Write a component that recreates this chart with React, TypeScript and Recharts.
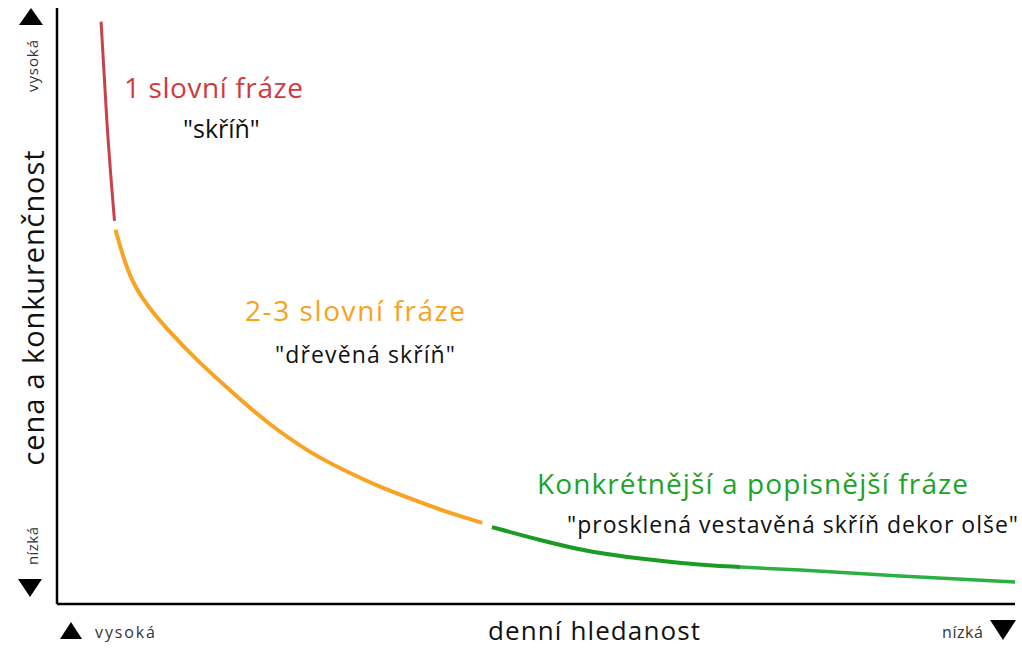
import React from "react";
import { LineChart, Line, XAxis, YAxis, ReferenceLine } from "recharts";

// x = denní hledanost (0 = vysoká, 100 = nízká), y = cena a konkurenčnost
const oneWord = [
  { x: 4.6, y: 97.7 },
  { x: 5.2, y: 81.2 },
  { x: 6.0, y: 64.3 },
];

const twoThreeWords = [
  { x: 6.1, y: 62.8 },
  { x: 7.3, y: 56.0 },
  { x: 8.7, y: 51.5 },
  { x: 11.5, y: 46.0 },
  { x: 14.9, y: 40.4 },
  { x: 18.4, y: 35.4 },
  { x: 21.5, y: 30.9 },
  { x: 26.7, y: 25.0 },
  { x: 30.3, y: 22.2 },
  { x: 33.7, y: 19.6 },
  { x: 37.2, y: 17.5 },
  { x: 40.7, y: 15.4 },
  { x: 44.4, y: 13.6 },
];

const longTailA = [
  { x: 45.4, y: 12.9 },
  { x: 50.4, y: 10.7 },
  { x: 55.6, y: 8.7 },
  { x: 60.9, y: 7.6 },
  { x: 66.1, y: 6.7 },
  { x: 71.3, y: 6.2 },
];

const longTailB = [
  { x: 71.3, y: 6.2 },
  { x: 77.6, y: 5.7 },
  { x: 88.0, y: 4.7 },
  { x: 100, y: 3.7 },
];

const labelFont = "'Open Sans', sans-serif";

function Overlay() {
  return (
    <svg
      width={1022}
      height={648}
      style={{ position: "absolute", left: 0, top: 0, pointerEvents: "none" }}
      fontFamily={labelFont}
    >
      {/* axis arrows */}
      <polygon points="31,8 19,25 43,25" fill="#000" />
      <polygon points="18,579 42,579 30,597" fill="#000" />
      <polygon points="71,622 60,639 82,639" fill="#000" />
      <polygon points="990,620 1016,620 1003,640" fill="#000" />

      <text x={32} y={66} transform="rotate(-90 32 66)" textAnchor="middle" dominantBaseline="central" fontSize={15} fill="#333" textLength={52} lengthAdjust="spacing">
        vysoká
      </text>
      <text x={32} y={546} transform="rotate(-90 32 546)" textAnchor="middle" dominantBaseline="central" fontSize={15} fill="#333" textLength={38} lengthAdjust="spacing">
        nízká
      </text>
      <text x={32} y={308} transform="rotate(-90 32 308)" textAnchor="middle" dominantBaseline="central" fontSize={29} fill="#111" textLength={315} lengthAdjust="spacing">
        cena a konkurenčnost
      </text>

      <text x={95} y={638} fontSize={16} fill="#333" textLength={60} lengthAdjust="spacing">vysoká</text>
      <text x={942} y={638} fontSize={16} fill="#333" textLength={41} lengthAdjust="spacing">nízká</text>
      <text x={488} y={640} fontSize={26} fill="#111" textLength={212} lengthAdjust="spacing">denní hledanost</text>

      <text x={124} y={98} fontSize={28} fill="#d13a3d" textLength={179} lengthAdjust="spacing">1 slovní fráze</text>
      <text x={183} y={138} fontSize={25} fill="#111">"skříň"</text>

      <text x={245} y={321} fontSize={28} fill="#f7a21b" textLength={220} lengthAdjust="spacing">2-3 slovní fráze</text>
      <text x={275} y={363} fontSize={23} fill="#111" textLength={180} lengthAdjust="spacing">"dřevěná skříň"</text>

      <text x={537} y={494} fontSize={28} fill="#1ca32a" textLength={431} lengthAdjust="spacing">Konkrétnější a popisnější fráze</text>
      <text x={567} y={533} fontSize={23} fill="#111" textLength={451} lengthAdjust="spacing">"prosklená vestavěná skříň dekor olše"</text>
    </svg>
  );
}

export default function App() {
  return (
    <div style={{ position: "absolute", left: 0, top: 0, width: 1022, height: 648, background: "#fff" }}>
      <LineChart width={1022} height={648} margin={{ top: 8, right: 7, bottom: 44, left: 57 }}>
        <XAxis type="number" dataKey="x" domain={[0, 100]} hide />
        <YAxis type="number" dataKey="y" domain={[0, 100]} hide />
        <ReferenceLine x={0} stroke="#000" strokeWidth={2.5} ifOverflow="visible" />
        <ReferenceLine y={0} stroke="#000" strokeWidth={2.5} ifOverflow="visible" />
        <Line data={oneWord} dataKey="y" type="monotone" stroke="#c9424a" strokeWidth={3} dot={false} isAnimationActive={false} />
        <Line data={twoThreeWords} dataKey="y" type="basis" stroke="#f7a424" strokeWidth={4} dot={false} isAnimationActive={false} />
        <Line data={longTailA} dataKey="y" type="basis" stroke="#1a9c22" strokeWidth={4} dot={false} isAnimationActive={false} />
        <Line data={longTailB} dataKey="y" type="monotone" stroke="#2cb043" strokeWidth={3.5} dot={false} isAnimationActive={false} />
      </LineChart>
      <Overlay />
    </div>
  );
}
